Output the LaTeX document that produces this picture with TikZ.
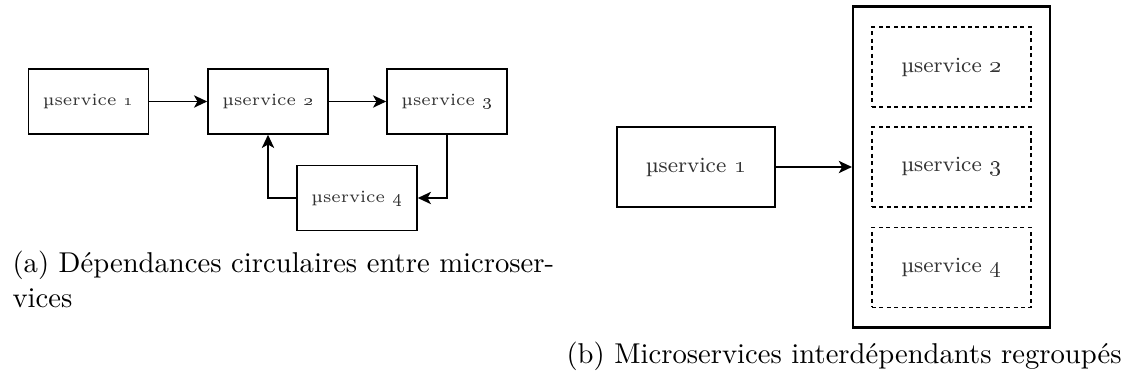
\documentclass[tikz,border=0pt]{standalone}
\usetikzlibrary{arrows.meta}
\definecolor{boxtext}{HTML}{333333}
\begin{document}
\begin{tikzpicture}[x=0.349pt, y=-0.349pt,
  svc/.style={draw=black, line width=0.55pt, text=boxtext, inner sep=0pt},
  small/.style={svc, minimum width=120*0.349pt, minimum height=65*0.349pt, font=\fontsize{6}{7}\selectfont},
  big/.style={svc, minimum width=158*0.349pt, minimum height=80*0.349pt, font=\fontsize{7.6}{9}\selectfont},
  member/.style={big, dashed, dash pattern=on 1.4pt off 1.2pt, minimum width=159*0.349pt},
  group/.style={draw=black, line width=0.75pt, minimum width=197*0.349pt, minimum height=321*0.349pt, inner sep=0pt},
  link/.style={line width=0.55pt, -{Stealth[length=4.6pt, width=4.3pt, inset=1.2pt]}},
  captext/.style={font=\fontsize{10}{12.2}\selectfont, inner sep=0pt}
]
\useasboundingbox (0,0) rectangle (1123,381);

% (a) circular dependencies
\node[small] (a1) at (88.5,101.5) {µservice \oldstylenums{1}};
\node[small] (a2) at (268,101.5) {µservice \oldstylenums{2}};
\node[small] (a3) at (447,101.5) {µservice \oldstylenums{3}};
\node[small] (a4) at (357,198) {µservice \oldstylenums{4}};
\draw[link] (a1.east) -- (a2.west);
\draw[link] (a2.east) -- (a3.west);
\draw[link] (a3.south) |- (a4.east);
\draw[link] (a4.west) -| (a2.south);
\node[captext, anchor=base west] (capa) at (12,273) {(a) Dépendances circulaires entre microser-};
\node[captext, anchor=base west] (capa2) at (12,308) {vices};

% (b) grouped interdependent services
\node[big] (b1) at (696,167) {µservice \oldstylenums{1}};
\node[group] (grp) at (951.5,167) {};
\node[member] (b2) at (951.5,67) {µservice \oldstylenums{2}};
\node[member] (b3) at (951.5,167) {µservice \oldstylenums{3}};
\node[member] (b4) at (951.5,267.5) {µservice \oldstylenums{4}};
\draw[link] (b1.east) -- (grp.west);
\node[captext, anchor=base west] (capb) at (566,363) {(b) Microservices interdépendants regroupés};
\end{tikzpicture}
\end{document}
